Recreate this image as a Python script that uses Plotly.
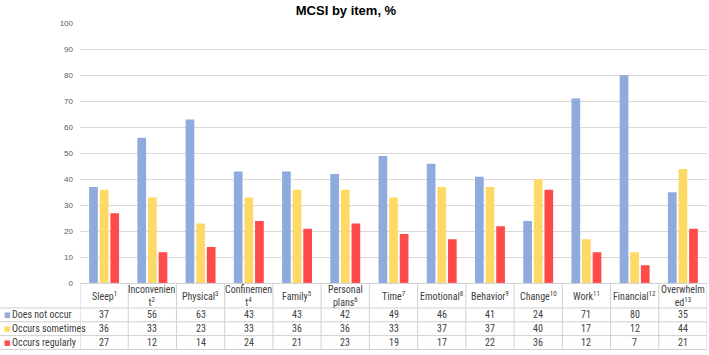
import plotly.graph_objects as go

items = ["Sleep<sup>1</sup>", "Inconvenien<br>t<sup>2</sup>", "Physical<sup>3</sup>",
         "Confinemen<br>t<sup>4</sup>", "Family<sup>5</sup>", "Personal<br>plans<sup>6</sup>",
         "Time<sup>7</sup>", "Emotional<sup>8</sup>", "Behavior<sup>9</sup>",
         "Change<sup>10</sup>", "Work<sup>11</sup>", "Financial<sup>12</sup>",
         "Overwhelm<br>ed<sup>13</sup>"]
series_names = ["Does not occur", "Occurs sometimes", "Occurs regularly"]
does_not_occur = [37, 56, 63, 43, 43, 42, 49, 46, 41, 24, 71, 80, 35]
occurs_sometimes = [36, 33, 23, 33, 36, 36, 33, 37, 37, 40, 17, 12, 44]
occurs_regularly = [27, 12, 14, 24, 21, 23, 19, 17, 22, 36, 12, 7, 21]
y_ticks = [0, 10, 20, 30, 40, 50, 60, 70, 80, 90, 100]

colors = ["#8FAADC", "#FFD966", "#FF4B4B"]
values = [does_not_occur, occurs_sometimes, occurs_regularly]

W, H = 709, 355
ml, mr, mt, mb = 0, 2, 23, 0
plot_w = W - ml - mr
plot_h = H - mt - mb
x0_px = 80
y0_px = 287.4
header_bottom = 312.3
row_h = 14.05


def yp(py):
    return (H - mb - py) / plot_h


def xp(px):
    return (px - ml) / plot_w


ydom0 = yp(y0_px)
n = len(items)
cats = list(range(n))

fig = go.Figure()
for name, vals, col in zip(series_names, values, colors):
    fig.add_trace(go.Bar(x=cats, y=vals, name=name, marker=dict(color=col, line=dict(width=0)),
                         showlegend=False, hoverinfo="y+name"))

tfont = "Liberation Sans Narrow, Roboto Condensed, Liberation Sans, sans-serif"
grid_col = "#D0D0D0"
txt_col = "#404040"

shapes = []
annotations = []
row_lines = [header_bottom + k * row_h for k in range(4)]
row_lines[-1] = min(row_lines[-1], H - 0.6)
# table top border
shapes.append(dict(type="line", xref="x", yref="paper", x0=-0.5, x1=n - 0.5,
                   y0=ydom0, y1=ydom0, line=dict(color=grid_col, width=1)))
# row borders
for py in row_lines:
    shapes.append(dict(type="line", xref="paper", yref="paper", x0=0, x1=1,
                       y0=yp(py), y1=yp(py), line=dict(color=grid_col, width=1)))
# column borders
for i in range(n + 1):
    shapes.append(dict(type="line", xref="x", yref="paper", x0=i - 0.5, x1=i - 0.5,
                       y0=ydom0, y1=yp(row_lines[-1]), line=dict(color=grid_col, width=1)))

# header texts
for i, lab in enumerate(items):
    annotations.append(dict(xref="x", yref="paper", x=i, y=yp((y0_px + header_bottom) / 2),
                            text=lab, showarrow=False, xanchor="center", yanchor="middle",
                            font=dict(family=tfont, size=10, color=txt_col)))
# rows
for r, (name, vals, col) in enumerate(zip(series_names, values, colors)):
    cy = yp(header_bottom + (r + 0.5) * row_h)
    annotations.append(dict(xref="paper", yref="paper", x=xp(1.5), y=cy, text="■",
                            showarrow=False, xanchor="left", yanchor="middle",
                            font=dict(family="DejaVu Sans", size=7, color=col)))
    annotations.append(dict(xref="paper", yref="paper", x=xp(10), y=cy, text=name,
                            showarrow=False, xanchor="left", yanchor="middle",
                            font=dict(family=tfont, size=10, color=txt_col)))
    for i, v in enumerate(vals):
        annotations.append(dict(xref="x", yref="paper", x=i, y=cy, text=str(v),
                                showarrow=False, xanchor="center", yanchor="middle",
                                font=dict(family=tfont, size=10, color=txt_col)))

fig.update_layout(
    width=W, height=H,
    margin=dict(l=ml, r=mr, t=mt, b=mb),
    paper_bgcolor="white", plot_bgcolor="white",
    barmode="group", bargap=0.34, bargroupgap=0.18,
    title=dict(text="<b>MCSI by item, %</b>", x=0.488, xanchor="center",
               y=1 - 10 / H, yanchor="middle",
               font=dict(family="Liberation Sans, Arial, sans-serif", size=13, color="#000000")),
    xaxis=dict(domain=[xp(x0_px), 1], range=[-0.5, n - 0.5],
               showticklabels=False, showgrid=False, zeroline=False, ticks=""),
    yaxis=dict(domain=[ydom0, 1], range=[0, 100.05], tickvals=y_ticks,
               showgrid=True, gridcolor="#D9D9D9", gridwidth=1, zeroline=False,
               tickfont=dict(family="Liberation Sans, Arial, sans-serif", size=8, color="#595959"),
               ticklabelstandoff=6),
    shapes=shapes,
    annotations=annotations,
)

fig.write_html("out.html", config={"displayModeBar": False},
               post_script="document.body.style.margin='0px';document.body.style.overflow='hidden';")
